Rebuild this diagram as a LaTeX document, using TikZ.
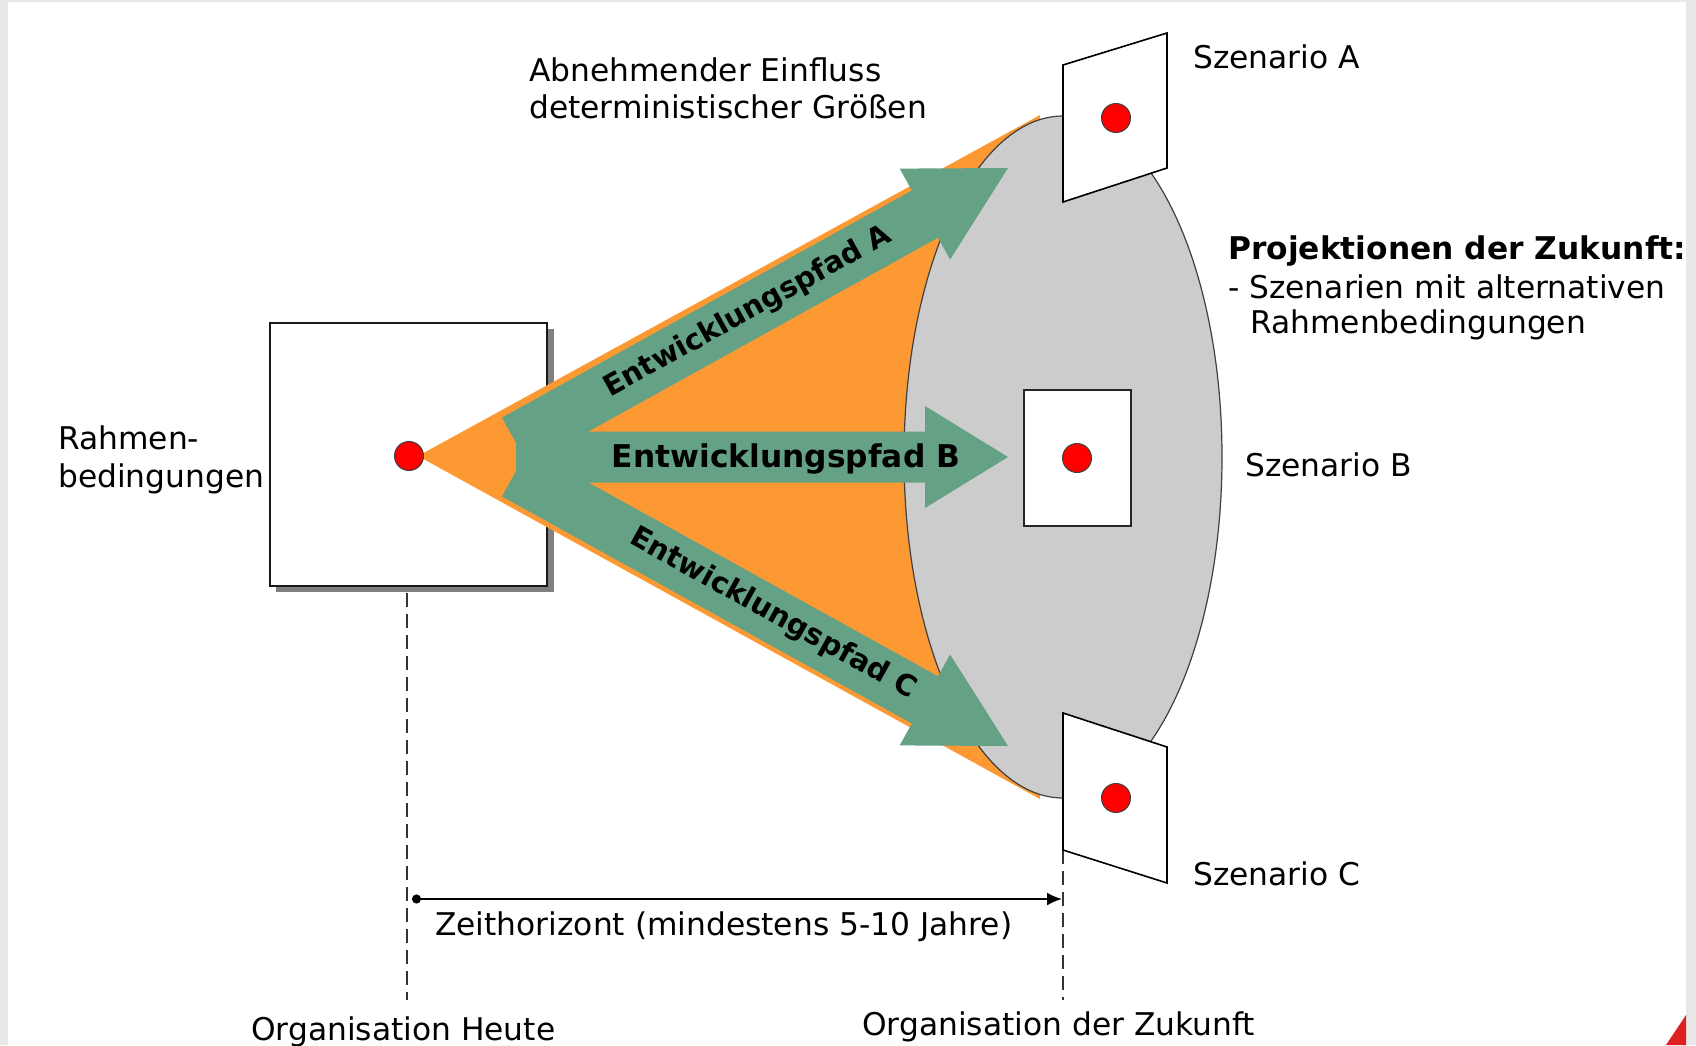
\documentclass[tikz,border=0pt]{standalone}
\usepackage{fontspec}
\setmainfont{DejaVu Sans}
\usetikzlibrary{arrows.meta}
\definecolor{pathgreen}{RGB}{101,161,132}
\definecolor{fanorange}{RGB}{253,153,51}
\definecolor{lensgray}{RGB}{204,204,204}
\definecolor{framegray}{RGB}{232,232,232}
\definecolor{cornerred}{RGB}{222,32,32}
\begin{document}
\begin{tikzpicture}[x=1pt,y=-1pt,
  txt/.style={anchor=base west, inner sep=0pt, font=\fontsize{31.3}{37}\selectfont},
  boldtxt/.style={anchor=base west, inner sep=0pt, font=\bfseries\fontsize{31.3}{37}\selectfont},
  pathtxt/.style={inner sep=0pt, font=\bfseries\fontsize{31.3}{37}\selectfont},
  slanttxt/.style={inner sep=0pt, font=\bfseries\fontsize{29}{34}\selectfont},
  reddot/.style={circle, fill=red, draw=black!75, line width=1pt, minimum size=29pt, inner sep=0pt},
  panel/.style={draw=black, line width=1.6pt, fill=white},
  guide/.style={draw=black!80, line width=1.2pt, dash pattern=on 14pt off 7pt},
  greenpath/.style={fill=pathgreen}]

\useasboundingbox (0,0) rectangle (1696,1045);
% page frame
\fill[framegray] (0,0) rectangle (1696,1045);
\fill[white] (8,2) rectangle (1686,1045);
\fill[cornerred] (1666,1045) -- (1686,1015) -- (1686,1045) -- cycle;

% time guides
\coordinate (todayTop) at (407,593);
\coordinate (todayBot) at (407,1000);
\coordinate (futureTop) at (1063,850);
\coordinate (futureBot) at (1063,1000);
\draw[guide] (todayTop) -- (todayBot);
\draw[guide] (futureTop) -- (futureBot);

% framework box with shadow
\fill[black!50] (276,329) rectangle (554,592);
\node[draw=black!90, line width=2pt, fill=white, minimum width=277pt,
      minimum height=263pt, inner sep=0pt] (frame) at (408.5,454.5) {};

% fan of decreasing influence
\fill[fanorange] (418,456) -- (1040,115) -- (1040,799) -- cycle;

% space of future projections
\filldraw[fill=lensgray, draw=black!75, line width=1.2pt]
  (1063,457) ellipse [x radius=159, y radius=341];

% development paths
\fill[greenpath] (502,417.6) -- (911.8,190.5) -- (899.7,168.6) -- (1008,168)
  -- (950.1,259.5) -- (938,237.7) -- (528.2,464.9) -- cycle;
\fill[greenpath] (516,431.5) -- (925,431.5) -- (925,406) -- (1008,457)
  -- (925,508) -- (925,482.5) -- (516,482.5) -- cycle;
\fill[greenpath] (502,496.4) -- (911.8,723.5) -- (899.7,745.4) -- (1008,746)
  -- (950.1,654.5) -- (938,676.3) -- (528.2,449.1) -- cycle;

\node[slanttxt, rotate=29] (pathA) at (748,312) {Entwicklungspfad A};
\node[pathtxt] (pathB) at (786,459) {Entwicklungspfad B};
\node[slanttxt, rotate=-29] (pathC) at (773,614) {Entwicklungspfad C};

% today
\node[reddot] (dotToday) at (409,456) {};

% scenarios
\draw[panel] (1063,65) -- (1167,33) -- (1167,168) -- (1063,202) -- cycle;
\draw[panel] (1063,713) -- (1167,747) -- (1167,883) -- (1063,850) -- cycle;
\node[draw=black!85, line width=2pt, fill=white, minimum width=107pt,
      minimum height=136pt, inner sep=0pt] (scenBbox) at (1077.5,458) {};
\node[reddot] (dotA) at (1116,118) {};
\node[reddot] (dotB) at (1077,458) {};
\node[reddot] (dotC) at (1116,798) {};

% time horizon
\coordinate (spanL) at (412,899);
\coordinate (spanR) at (1062,899);
\draw[line width=2pt, {Circle[length=9pt]}-{Latex[length=15pt,width=13pt]}] (spanL) -- (spanR);

% labels
\node[txt] (abn1) at (529,81) {Abnehmender Einfluss};
\node[txt] (abn2) at (529,118) {deterministischer Größen};
\node[txt] (labA) at (1193,68) {Szenario A};
\node[boldtxt] (proj1) at (1228,259) {Projektionen der Zukunft:};
\node[txt] (proj2) at (1228,298) {- Szenarien mit alternativen};
\node[txt] (proj3) at (1250,333) {Rahmenbedingungen};
\node[txt] (labB) at (1245,476) {Szenario B};
\node[txt] (labC) at (1193,885) {Szenario C};
\node[txt] (rahmen1) at (58,449) {Rahmen-};
\node[txt] (rahmen2) at (58,487) {bedingungen};
\node[txt] (zeit) at (435,935) {Zeithorizont (mindestens 5-10 Jahre)};
\node[txt] (orgToday) at (251,1040) {Organisation Heute};
\node[txt] (orgFuture) at (862,1035) {Organisation der Zukunft};
\end{tikzpicture}
\end{document}
